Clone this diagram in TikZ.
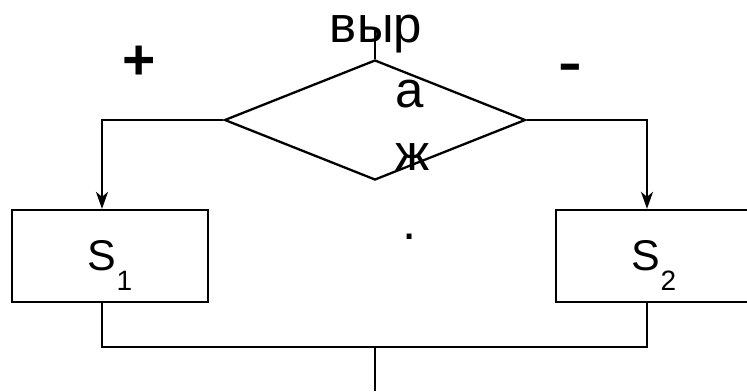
\documentclass[tikz,border=0pt]{standalone}
\usepackage{fontspec}
\setmainfont{Liberation Sans}
\usetikzlibrary{shapes.geometric,arrows.meta}

\newcommand{\lowsub}[1]{\raisebox{-20pt}{\fontsize{28}{30}\selectfont #1}}

\begin{document}
\begin{tikzpicture}[x=1pt,y=-1pt,
  line width=2.3pt,
  cond node/.style={diamond, draw, inner sep=0pt, minimum width=301pt, minimum height=120pt},
  block node/.style={rectangle, draw, inner sep=0pt, minimum width=196pt, minimum height=92pt,
    font=\fontsize{43}{50}\selectfont, text height=48pt, text depth=20pt},
  word node/.style={inner sep=0pt, anchor=base, font=\fontsize{51}{60}\selectfont},
  sign node/.style={inner sep=0pt, anchor=base, font=\fontsize{57}{60}\selectfont\bfseries},
  flow/.style={-{Stealth[length=17pt,width=12pt,inset=5pt]}}]

  \clip (0,0) rectangle (747,391);

  \node[cond node] (cond) at (375,120) {};
  \node[block node] (s1) at (110,256) {S\lowsub{1}};
  \node[block node] (s2) at (654,256) {S\lowsub{2}};

  \node[word node] (w1) at (376,42) {выр};
  \node[word node] (w2) at (410,107) {а};
  \node[word node] (w3) at (413,170) {ж};
  \node[word node] (w4) at (410,239) {.};
  \node[sign node] (yes) at (139,79) {+};
  \node[sign node] (no) at (570,80) {\scalebox{1.25}[0.9]{-}};

  \coordinate (in) at (375,29);
  \coordinate (join) at (375,347);
  \coordinate (out) at (375,391);

 \path[draw] (in) -- (cond.north);
 \path[draw, flow] (cond.west) -| ([xshift=-8pt]s1.north);
 \path[draw, flow] (cond.east) -| ([xshift=-7pt]s2.north);
 \path[draw] ([xshift=-8pt]s1.south) |- (join) -| ([xshift=-7pt]s2.south);
 \path[draw] (join) -- (out);

\end{tikzpicture}
\end{document}
